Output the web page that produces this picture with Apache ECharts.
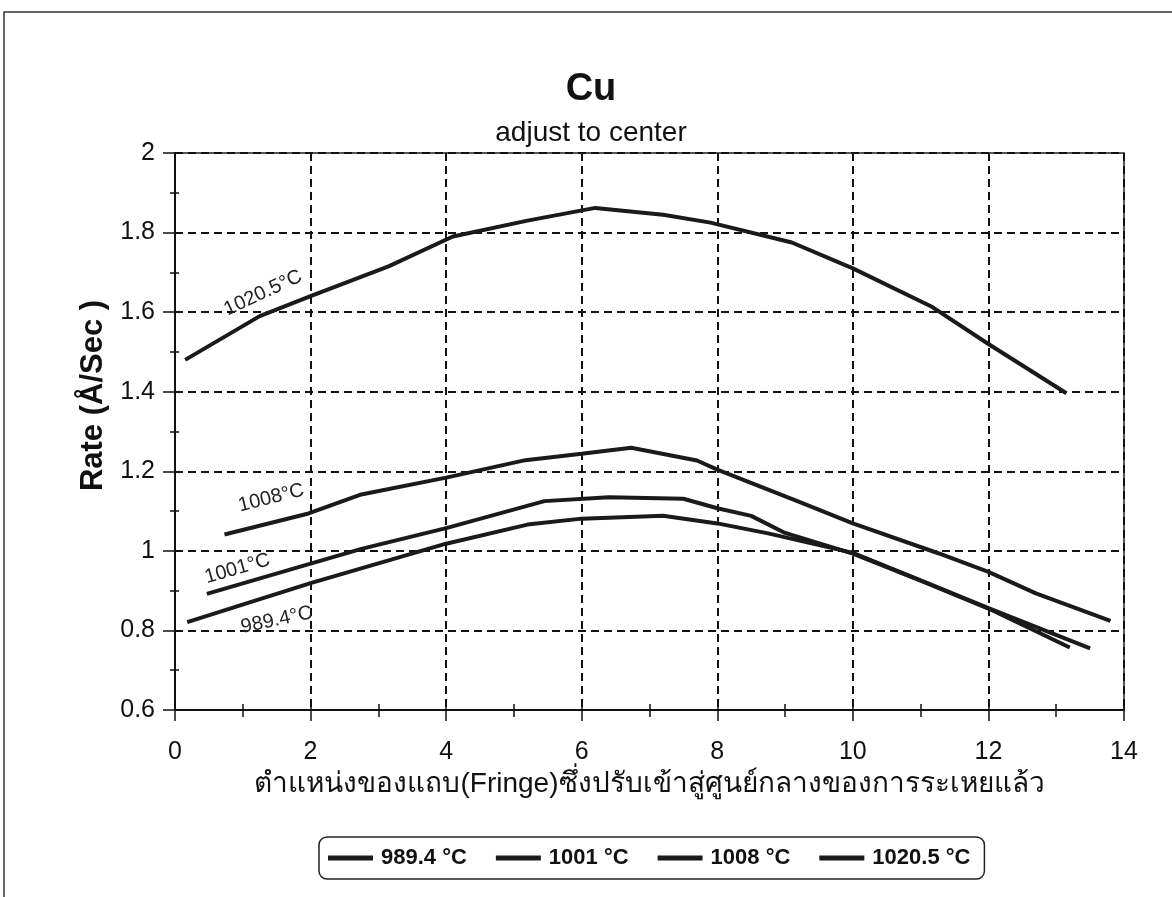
<!DOCTYPE html>
<html>
<head>
<meta charset="utf-8">
<style>
  html, body { margin: 0; padding: 0; background: #fff; }
  #chart { width: 1172px; height: 897px; }
</style>
<script src="https://cdn.jsdelivr.net/npm/echarts@6/dist/echarts.min.js"></script>
</head>
<body>
<div id="chart"></div>
<script>
// Deposition rate of Cu versus fringe position, one curve per temperature.
const seriesNames = ['989.4 °C', '1001 °C', '1008 °C', '1020.5 °C'];
const curveLabels = ['989.4°C', '1001°C', '1008°C', '1020.5°C'];

// [fringe position, rate (Å/Sec)]
const rate989 = [
  [0.18, 0.821], [2.0, 0.919], [4.0, 1.018], [5.2, 1.066], [6.0, 1.081],
  [7.2, 1.088], [8.0, 1.069], [8.75, 1.044], [10.0, 0.995], [11.1, 0.919],
  [12.0, 0.856], [13.5, 0.755]
];
const rate1001 = [
  [0.47, 0.892], [2.0, 0.968], [2.75, 1.005], [4.0, 1.057], [5.45, 1.125],
  [6.4, 1.135], [7.5, 1.131], [8.0, 1.107], [8.5, 1.088], [9.0, 1.045],
  [10.0, 0.993], [11.1, 0.918], [12.0, 0.855], [13.2, 0.757]
];
const rate1008 = [
  [0.73, 1.041], [1.97, 1.094], [2.73, 1.141], [4.0, 1.184], [5.17, 1.228],
  [6.0, 1.244], [6.73, 1.259], [7.7, 1.227], [8.0, 1.204], [9.2, 1.124],
  [10.0, 1.069], [11.26, 0.994], [12.0, 0.947], [12.7, 0.893], [13.8, 0.824]
];
const rate1020 = [
  [0.15, 1.48], [1.25, 1.59], [2.0, 1.64], [3.15, 1.715], [4.1, 1.79],
  [5.2, 1.83], [6.2, 1.862], [7.2, 1.845], [7.9, 1.825], [9.1, 1.775],
  [10.0, 1.71], [11.15, 1.615], [12.0, 1.52], [13.15, 1.396]
];
const rateData = [rate989, rate1001, rate1008, rate1020];

// where each curve's name is written, in data units, and its slant
const labelSpots = [[1.5, 0.826], [0.92, 0.955], [1.42, 1.133], [1.3, 1.648]];
const labelTilt = [12, 16, 14, 25];

const FONT = "'Liberation Sans', Arial, 'Noto Sans', sans-serif";

const chart = echarts.init(document.getElementById('chart'));

const lineSeries = rateData.map((data, i) => ({
  name: seriesNames[i],
  type: 'line',
  xAxisIndex: 0,
  yAxisIndex: 0,
  data: data,
  showSymbol: false,
  symbol: 'none',
  smooth: false,
  lineStyle: { color: '#1a1a1a', width: 4 },
  itemStyle: { color: '#1a1a1a' },
  z: 3,
  markPoint: {
    symbol: 'circle',
    symbolSize: 0,
    silent: true,
    data: [{
      coord: labelSpots[i],
      label: {
        show: true,
        position: 'inside',
        formatter: curveLabels[i],
        rotate: labelTilt[i],
        color: '#222',
        fontFamily: FONT,
        fontSize: 20
      }
    }]
  }
}));

chart.setOption({
  backgroundColor: '#fff',
  animation: false,
  title: {
    text: 'Cu',
    subtext: 'adjust to center',
    left: 586,
    textAlign: 'center',
    top: 66,
    itemGap: 10,
    textStyle: { fontFamily: FONT, fontSize: 38, fontWeight: 'bold', color: '#111' },
    subtextStyle: { fontFamily: FONT, fontSize: 28, color: '#111' }
  },
  graphic: [{
    type: 'rect',
    shape: { x: 4, y: 12, width: 1200, height: 920 },
    style: { fill: 'none', stroke: '#333', lineWidth: 1.5 },
    silent: true,
    z: -1
  }],
  legend: {
    data: seriesNames,
    left: 319,
    top: 837,
    orient: 'horizontal',
    icon: 'rect',
    itemWidth: 45,
    itemHeight: 5,
    itemGap: 29,
    padding: [10, 14, 10, 9],
    borderColor: '#222',
    borderWidth: 1.5,
    borderRadius: 8,
    textStyle: { fontFamily: FONT, fontSize: 22, fontWeight: 'bold', color: '#111', padding: [0, 0, 0, 3] }
  },
  grid: {
    left: 175, top: 153, right: 48, bottom: 187,
    show: true,
    borderColor: '#222',
    borderWidth: 1.5,
    containLabel: false
  },
  xAxis: [{
    type: 'value',
    min: 0, max: 14, interval: 2,
    name: 'ตำแหน่งของแถบ(Fringe)ซึ่งปรับเข้าสู่ศูนย์กลางของการระเหยแล้ว',
    nameLocation: 'middle',
    nameGap: 56,
    nameTextStyle: { fontFamily: FONT, fontSize: 28, color: '#111' },
    axisLine: { show: true, lineStyle: { color: '#111', width: 2 } },
    axisTick: { show: true, inside: false, length: 11, lineStyle: { color: '#111', width: 1.5 } },
    minorTick: { show: true, splitNumber: 2, length: 7, lineStyle: { color: '#111', width: 1.5 } },
    axisLabel: { fontFamily: FONT, fontSize: 25, color: '#111', margin: 30 },
    splitLine: { show: true, lineStyle: { color: '#111', width: 2, type: [8, 5] } }
  }, {
    type: 'value',
    min: 0, max: 14, interval: 1,
    position: 'bottom',
    axisLine: { show: false },
    axisTick: { show: true, inside: true, length: 6, lineStyle: { color: '#111', width: 1.5 } },
    axisLabel: { show: false },
    splitLine: { show: false }
  }],
  yAxis: [{
    type: 'value',
    min: 0.6, max: 2, interval: 0.2,
    name: 'Rate (Å/Sec )',
    nameLocation: 'middle',
    nameGap: 53,
    nameTextStyle: { fontFamily: FONT, fontSize: 31, fontWeight: 'bold', color: '#111', padding: [0, 0, 0, 72] },
    axisLine: { show: true, lineStyle: { color: '#111', width: 2 } },
    axisTick: { show: true, inside: false, length: 12, lineStyle: { color: '#111', width: 1.5 } },
    minorTick: { show: true, splitNumber: 2, length: 5, lineStyle: { color: '#111', width: 1.5 } },
    axisLabel: {
      fontFamily: FONT, fontSize: 25, color: '#111', margin: 20,
      formatter: v => String(Math.round(v * 10) / 10)
    },
    splitLine: { show: true, lineStyle: { color: '#111', width: 2, type: [8, 5] } }
  }, {
    type: 'value',
    min: 0.6, max: 2, interval: 0.1,
    position: 'left',
    axisLine: { show: false },
    axisTick: { show: true, inside: true, length: 4, lineStyle: { color: '#111', width: 1.5 } },
    axisLabel: { show: false },
    splitLine: { show: false }
  }],
  series: lineSeries
});
</script>
</body>
</html>
